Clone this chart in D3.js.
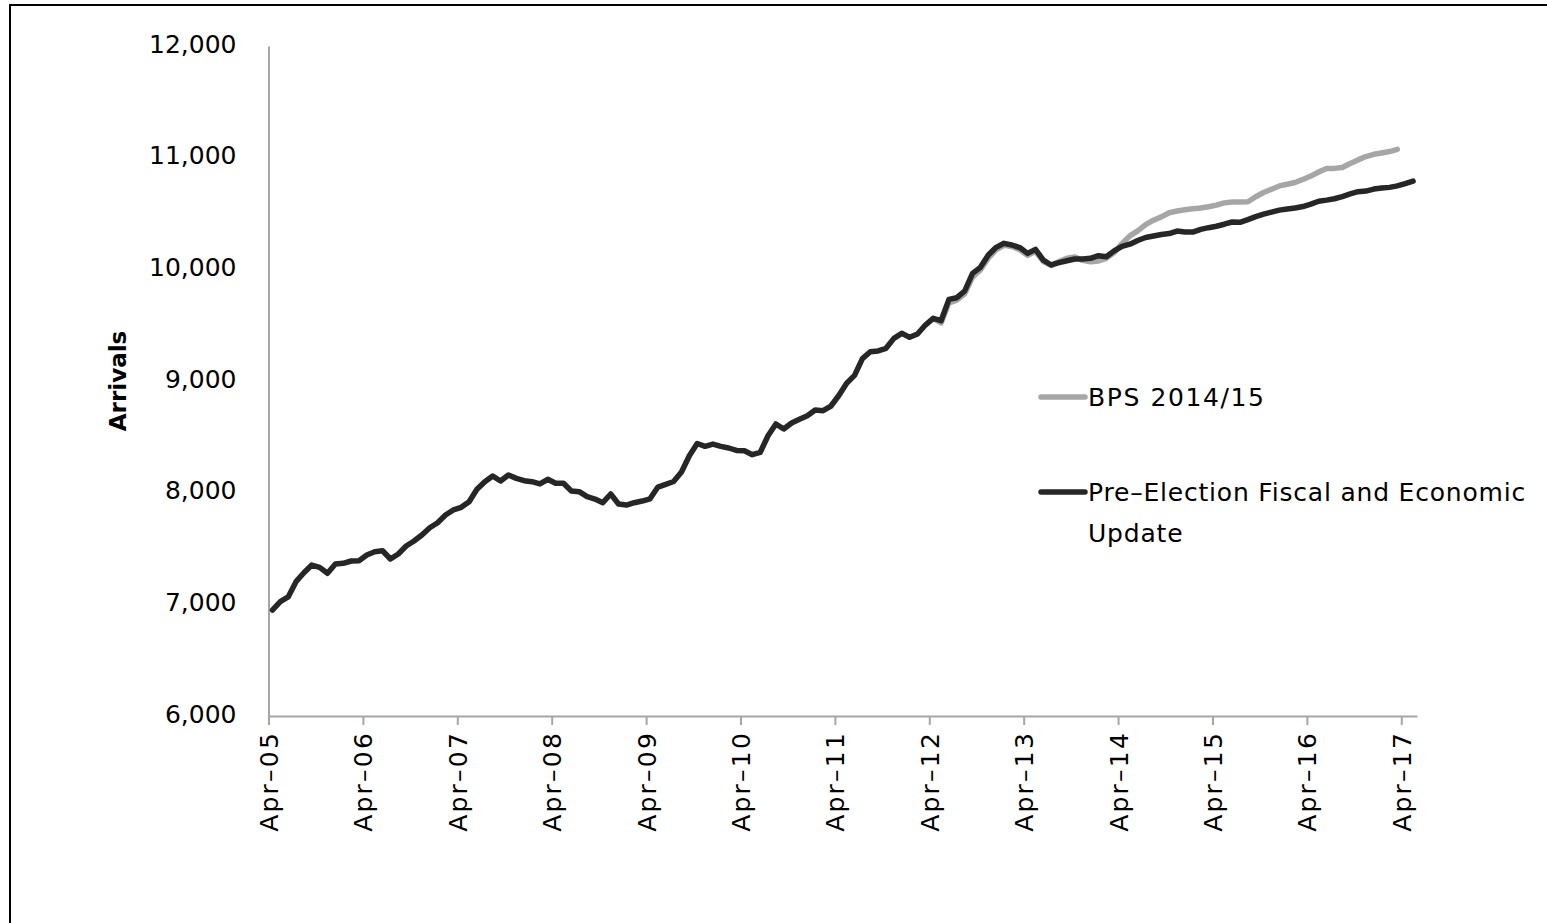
<!DOCTYPE html>
<html>
<head>
<meta charset="utf-8">
<script src="https://cdn.jsdelivr.net/npm/d3@7"></script>
<style>
  html, body { margin: 0; padding: 0; background: #fff; }
  svg { display: block; }
  text { font-family: "DejaVu Sans", sans-serif; }
</style>
</head>
<body>
<svg id="chart" width="1547" height="923"></svg>
<script>
// Months run from Apr-05 (index 0), monthly
const tickLabels = ["Apr–05","Apr–06","Apr–07","Apr–08","Apr–09","Apr–10","Apr–11","Apr–12","Apr–13","Apr–14","Apr–15","Apr–16","Apr–17"];
const yTicks = [6000, 7000, 8000, 9000, 10000, 11000, 12000];
const seriesNames = ["BPS 2014/15", "Pre–Election Fiscal and Economic Update"];

// Pre-Election Fiscal and Economic Update (Apr-05 .. May-17)
const pefoValues = [
  6949, 7024, 7066, 7203, 7283, 7352, 7331, 7278, 7361, 7367, 7388, 7391,
  7442, 7471, 7480, 7406, 7451, 7522, 7567, 7621, 7686, 7731, 7800, 7845,
  7869, 7919, 8030, 8098, 8149, 8104, 8158, 8128, 8107, 8098, 8078, 8120,
  8084, 8084, 8015, 8009, 7964, 7943, 7910, 7988, 7898, 7889, 7910, 7925,
  7945, 8050, 8075, 8100, 8185, 8330, 8440, 8415, 8435, 8415, 8400, 8378,
  8375, 8340, 8360, 8510, 8615, 8570, 8624, 8657, 8689, 8740, 8734, 8776,
  8870, 8980, 9050, 9200, 9262, 9269, 9293, 9382, 9427, 9391, 9421, 9501,
  9561, 9540, 9731, 9746, 9806, 9964, 10018, 10128, 10197, 10233, 10218, 10195,
  10143, 10179, 10083, 10039, 10060, 10077, 10093, 10093, 10099, 10122, 10113, 10165,
  10205, 10225, 10258, 10285, 10298, 10312, 10320, 10343, 10335, 10334, 10358, 10373,
  10386, 10404, 10424, 10421, 10445, 10472, 10494, 10512, 10530, 10540, 10550, 10562,
  10584, 10610, 10620, 10632, 10652, 10675, 10695, 10701, 10719, 10728, 10734, 10747,
  10767, 10790
];

// BPS 2014/15 (shown from Apr-12, where it separates from the other series, to Mar-17)
const bpsStart = 84;
const bpsValues = [
  9561, 9520, 9700, 9725, 9780, 9930, 9995, 10100, 10175, 10215, 10205, 10175,
  10125, 10160, 10070, 10035, 10070, 10100, 10110, 10080, 10068, 10075, 10099, 10150,
  10230, 10300, 10345, 10400, 10440, 10470, 10507, 10522, 10533, 10543, 10550, 10561,
  10575, 10595, 10603, 10603, 10605, 10650, 10688, 10718, 10747, 10762, 10778, 10805,
  10835, 10872, 10904, 10904, 10912, 10948, 10980, 11010, 11030, 11042, 11055, 11075
];

const colors = { bps: "#a6a6a6", pefo: "#262626", axis: "#a6a6a6" };

const svg = d3.select("#chart");

// outer frame
svg.append("rect")
  .attr("x", 10).attr("y", 5).attr("width", 1600).attr("height", 1000)
  .attr("fill", "none").attr("stroke", "#000").attr("stroke-width", 2);

const nMonths = 146;
const x = d3.scaleLinear().domain([0, nMonths]).range([268.5, 1417]);
const y = d3.scaleLinear().domain([6000, 12000]).range([716, 46]);

// Y axis (line only, no ticks)
const yAxis = d3.axisLeft(y).tickValues(yTicks).tickSize(0).tickPadding(32)
  .tickFormat(d3.format(","));
const gy = svg.append("g").attr("transform", `translate(${x(0)},0)`).call(yAxis);
gy.select(".domain").attr("stroke", colors.axis).attr("stroke-width", 2);
gy.selectAll("text").attr("font-size", 25).attr("fill", "#000")
  .attr("font-family", "DejaVu Sans").attr("dy", "0.25em");

// X axis
const tickIdx = tickLabels.map((_, i) => i * 12);
const xAxis = d3.axisBottom(x).tickValues(tickIdx).tickSize(9).tickSizeOuter(0)
  .tickFormat((d, i) => tickLabels[i]);
const gx = svg.append("g").attr("transform", `translate(0,${y(6000)})`).call(xAxis);
gx.select(".domain").attr("stroke", colors.axis).attr("stroke-width", 2);
gx.selectAll(".tick line").attr("stroke", colors.axis).attr("stroke-width", 2);
gx.selectAll("text")
  .attr("font-size", 25).attr("fill", "#000").attr("font-family", "DejaVu Sans")
  .attr("letter-spacing", 2.2)
  .attr("text-anchor", "end")
  .attr("transform", "rotate(-90)")
  .attr("x", -15).attr("y", 0).attr("dy", "0.36em");

// Y title
svg.append("text")
  .attr("transform", `translate(126,381) rotate(-90)`)
  .attr("text-anchor", "middle")
  .attr("font-size", 23).attr("font-weight", "bold")
  .text("Arrivals");

// lines
const line = d3.line().x(d => x(d.i + 0.5)).y(d => y(d.v));
const bpsData = bpsValues.map((v, k) => ({ i: bpsStart + k, v }));
const pefoData = pefoValues.map((v, i) => ({ i, v }));

svg.append("path").datum(bpsData).attr("d", line)
  .attr("fill", "none").attr("stroke", colors.bps).attr("stroke-width", 5.5)
  .attr("stroke-linejoin", "round").attr("stroke-linecap", "round");
svg.append("path").datum(pefoData).attr("d", line)
  .attr("fill", "none").attr("stroke", colors.pefo).attr("stroke-width", 5.5)
  .attr("stroke-linejoin", "round").attr("stroke-linecap", "round");

// legend
const lg = svg.append("g");
lg.append("line").attr("x1", 1041).attr("x2", 1085).attr("y1", 397).attr("y2", 397)
  .attr("stroke", colors.bps).attr("stroke-width", 5.5).attr("stroke-linecap", "round");
lg.append("text").attr("x", 1088).attr("y", 397).attr("dy", "0.36em")
  .attr("font-size", 25).attr("letter-spacing", 1.6).text(seriesNames[0]);
lg.append("line").attr("x1", 1041).attr("x2", 1085).attr("y1", 492).attr("y2", 492)
  .attr("stroke", colors.pefo).attr("stroke-width", 5.5).attr("stroke-linecap", "round");
const t2 = lg.append("text").attr("x", 1088).attr("y", 492).attr("dy", "0.36em")
  .attr("font-size", 25).attr("letter-spacing", 0.8);
t2.append("tspan").attr("x", 1088).text("Pre–Election Fiscal and Economic");
t2.append("tspan").attr("x", 1088).attr("dy", 41).text("Update");
</script>
</body>
</html>
